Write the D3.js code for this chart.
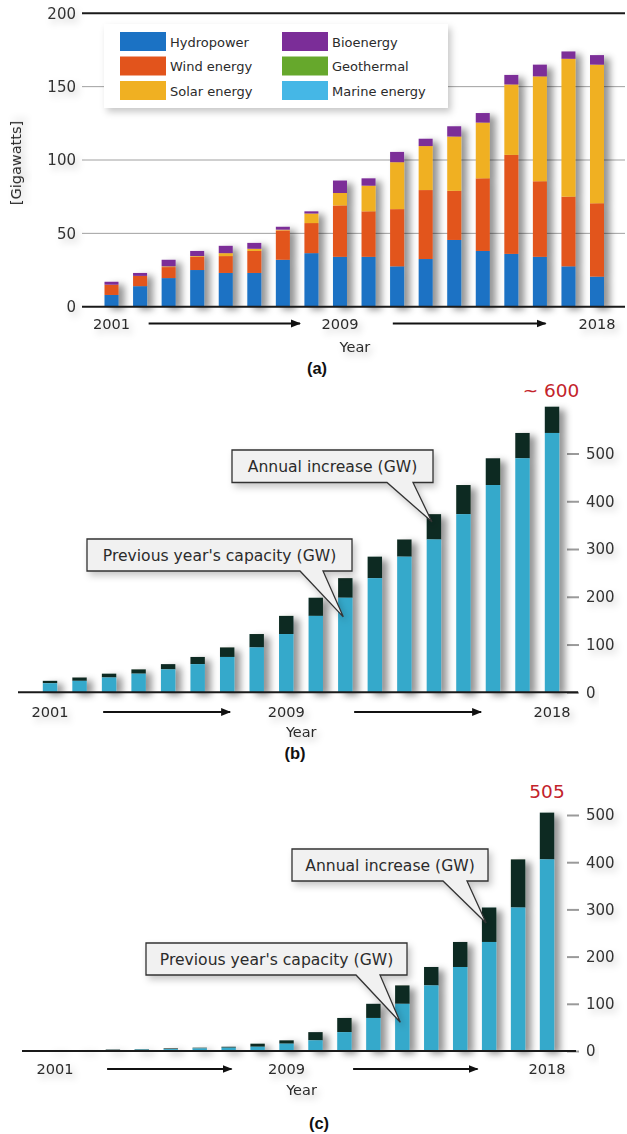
<!DOCTYPE html>
<html>
<head>
<meta charset="utf-8">
<script src="https://cdn.jsdelivr.net/npm/d3@7"></script>
<style>
body { margin: 0; background: #fff; }
svg { display: block; }
text { font-family: 'DejaVu Sans', sans-serif; fill: #2b2b2b; }
</style>
</head>
<body>
<div id="graph"></div>
<script>
// ---- data ----
var years = [2001, 2002, 2003, 2004, 2005, 2006, 2007, 2008, 2009, 2010, 2011, 2012, 2013, 2014, 2015, 2016, 2017, 2018]

// (a) annual additions by source, GW
var hydro = [8, 14, 19.5, 25, 23, 23, 32, 36.5, 34, 34, 27.5, 32.5, 45.5, 38, 36, 34, 27.5, 20.5]
var wind = [7, 7, 7.5, 9, 11.5, 15, 20, 20.5, 35, 31, 39, 47, 33.5, 49.5, 67.5, 51.5, 47.5, 50]
var solar = [0, 0, 0.5, 0.5, 2, 1.5, 0.5, 6.5, 8.5, 17.5, 32, 30, 37, 38, 48, 71.5, 94, 94.5]
var bio = [2, 2, 4.5, 3.5, 5, 4, 2, 1.5, 8.5, 5, 7, 5, 7, 6.5, 6.5, 8, 5, 6.5]
var geothermal = [0, 0, 0, 0, 0, 0, 0, 0, 0, 0, 0, 0, 0, 0, 0, 0, 0, 0]
var marine = [0, 0, 0, 0, 0, 0, 0, 0, 0, 0, 0, 0, 0, 0, 0, 0, 0, 0]
var sourceNames = ['Hydropower', 'Wind energy', 'Solar energy', 'Bioenergy', 'Geothermal', 'Marine energy']
var sourceColors = ['#1b72c4', '#e2541c', '#f0b022', '#7b2d98', '#66a82c', '#45b7e6']

// (b) wind capacity, GW
var windPrev = [19, 24, 31, 39, 48, 59, 74, 94, 122, 160, 198, 239, 284, 320, 373, 434, 490, 543]
var windTotal = [24, 31, 39, 48, 59, 74, 94, 122, 160, 198, 239, 284, 320, 373, 434, 490, 543, 598]

// (c) solar PV capacity, GW
var solarPrev = [1, 1.5, 2, 3, 4, 5.5, 7, 9, 15.5, 22.6, 40, 70, 100, 139, 178, 231, 304, 406]
var solarTotal = [1.5, 2, 3, 4, 5.5, 7, 9, 15.5, 22.6, 40, 70, 100, 139, 178, 231, 304, 406, 505]

var ticksA = [0, 50, 100, 150, 200]
var ticksBC = [0, 100, 200, 300, 400, 500]
var yearLabels = [2001, 2009, 2018]

var prevColor = '#35a9cb'
var incColor = '#0e2b22'

var svg = d3.select('#graph').append('svg').attr('width', 627).attr('height', 1134)
var defs = svg.append('defs')

var f = defs.append('filter').attr('id', 'shadow')
	.attr('x', '-50%').attr('y', '-30%').attr('width', '220%').attr('height', '160%')
f.append('feDropShadow').attr('dx', 6).attr('dy', 3).attr('stdDeviation', 3.5)
	.attr('flood-color', '#000').attr('flood-opacity', .42)

var ft = defs.append('filter').attr('id', 'soft')
	.attr('x', '-30%').attr('y', '-50%').attr('width', '160%').attr('height', '200%')
ft.append('feDropShadow').attr('dx', 3).attr('dy', 4).attr('stdDeviation', 3.5)
	.attr('flood-color', '#000').attr('flood-opacity', .22)

defs.append('marker').attr('id', 'arrow')
	.attr('viewBox', '0 0 10 10').attr('refX', 9).attr('refY', 5)
	.attr('markerWidth', 5).attr('markerHeight', 5).attr('orient', 'auto')
	.append('path').attr('d', 'M0,1L10,5L0,9Z').attr('fill', '#111')

function drawArrow(g, x0, x1, y){
	g.append('line')
		.attr('x1', x0).attr('x2', x1).attr('y1', y).attr('y2', y)
		.attr('stroke', '#111').attr('stroke-width', 2)
		.attr('marker-end', 'url(#arrow)')
}

function drawYears(g, x, yText, yYear, arrows){
	var t = g.append('g').attr('filter', 'url(#soft)')
	t.selectAll('text.yr').data(yearLabels).enter().append('text')
		.attr('x', d => x(d)).attr('y', yText)
		.attr('text-anchor', 'middle').attr('font-size', 14.6)
		.text(d => d)
	arrows.forEach(a => drawArrow(g, x(a[0]), x(a[1]), yText - 5))
	t.append('text').attr('x', x(2009) + 15).attr('y', yYear)
		.attr('text-anchor', 'middle').attr('font-size', 14.5).text('Year')
}

function panelLabel(txt, x, y){
	svg.append('text').attr('x', x).attr('y', y).attr('text-anchor', 'middle')
		.style('font-family', "'Liberation Sans', Arial, sans-serif")
		.attr('font-weight', 'bold').attr('font-size', 16.5).style('fill', '#111')
		.text(txt)
}

function callout(g, box, tail, tip, label){
	var p = 'M' + [box[0], box[1]] + 'H' + box[2] + 'V' + box[3] +
		'H' + tail[1] + 'L' + tip + 'L' + [tail[0], box[3]] + 'H' + box[0] + 'Z'
	g.append('path').attr('d', p)
		.attr('fill', '#f1f1f1').attr('stroke', '#333').attr('stroke-width', 1.3)
		.attr('filter', 'url(#soft)')
	g.append('text').attr('x', (box[0] + box[2])/2).attr('y', box[1] + 21.5)
		.attr('text-anchor', 'middle').attr('font-size', 15.6).text(label)
}

// ================= (a) =================
var xA = d3.scaleLinear().domain([2001, 2018]).range([111.5, 597])
var yA = d3.scaleLinear().domain([0, 200]).range([306.7, 13.3])
var gA = svg.append('g')

gA.selectAll('line.grid').data([50, 100, 150]).enter().append('line')
	.attr('x1', 82).attr('x2', 625).attr('y1', d => yA(d)).attr('y2', d => yA(d))
	.attr('stroke', '#a0a0a0').attr('stroke-width', 1)
gA.append('line').attr('x1', 82).attr('x2', 625).attr('y1', yA(200)).attr('y2', yA(200))
	.attr('stroke', '#1a1a1a').attr('stroke-width', 2)

var axA = gA.append('g').attr('transform', 'translate(82,0)').attr('filter', 'url(#soft)')
	.call(d3.axisLeft(yA).tickValues(ticksA).tickSize(0).tickPadding(6))
axA.select('.domain').remove()
axA.attr('font-size', 15).selectAll('text').style('fill', '#333')

gA.append('text').attr('transform', 'translate(21,' + yA(98) + ') rotate(-90)')
	.attr('text-anchor', 'middle').attr('font-size', 14.5).attr('filter', 'url(#soft)')
	.text('[Gigawatts]')

// legend
var lg = gA.append('g')
lg.append('rect').attr('x', 104).attr('y', 24).attr('width', 344).attr('height', 84)
	.attr('fill', '#fff').attr('filter', 'url(#soft)')
var li = lg.selectAll('g.li').data(sourceNames).enter().append('g')
	.attr('transform', (d, i) => 'translate(' + (i < 3 ? 120 : 282) + ',' + (32 + (i % 3)*24.5) + ')')
li.append('rect').attr('width', 46).attr('height', 19).attr('fill', (d, i) => sourceColors[i])
li.append('text').attr('x', 50).attr('y', 14.5).attr('font-size', 13).text(d => d)

var keysA = ['hydro', 'wind', 'solar', 'bio', 'geo', 'marine']
var tableA = years.map((y, i) => ({year: y, hydro: hydro[i], wind: wind[i], solar: solar[i],
	bio: bio[i], geo: geothermal[i], marine: marine[i]}))
var stackA = d3.stack().keys(keysA)(tableA)
var colorA = d3.scaleOrdinal().domain(keysA).range(sourceColors)

var barsA = gA.append('g').attr('filter', 'url(#shadow)')
barsA.selectAll('g').data(stackA).enter().append('g')
	.attr('fill', d => colorA(d.key))
	.selectAll('rect').data(d => d).enter().append('rect')
	.attr('x', d => xA(d.data.year) - 7).attr('width', 14)
	.attr('y', d => yA(d[1])).attr('height', d => yA(d[0]) - yA(d[1]))

gA.append('line').attr('x1', 82).attr('x2', 625).attr('y1', yA(0)).attr('y2', yA(0))
	.attr('stroke', '#1a1a1a').attr('stroke-width', 2)

drawYears(gA, xA, 328.5, 352, [[2002.3, 2007.6], [2010.85, 2016.2]])
panelLabel('(a)', 317, 374)

// ================= (b) & (c) =================
function capacityPanel(prev, total, x, y, x0, x1){
	var g = svg.append('g')
	var ax = g.append('g').attr('transform', 'translate(567,0)')
		.call(d3.axisRight(y).tickValues(ticksBC).tickSize(12).tickPadding(7))
	ax.select('.domain').remove()
	ax.selectAll('line').attr('stroke', '#9a9a9a').attr('stroke-width', 2)
	ax.attr('font-size', 15).selectAll('text').style('fill', '#333').attr('filter', 'url(#soft)')

	var rows = years.map((yr, i) => ({year: yr, prev: prev[i], total: total[i]}))
	var bars = g.append('g').attr('filter', 'url(#shadow)')
	var bg = bars.selectAll('g').data(rows).enter().append('g')
	bg.append('rect').attr('x', d => x(d.year) - 7.2).attr('width', 14.4)
		.attr('y', d => y(d.total)).attr('height', d => y(d.prev) - y(d.total))
		.attr('fill', incColor)
	bg.append('rect').attr('x', d => x(d.year) - 7.2).attr('width', 14.4)
		.attr('y', d => y(d.prev)).attr('height', d => y(0) - y(d.prev))
		.attr('fill', prevColor)

	g.append('line').attr('x1', x0).attr('x2', x1).attr('y1', y(0)).attr('y2', y(0))
		.attr('stroke', '#1a1a1a').attr('stroke-width', 2)
	return g
}

var xB = d3.scaleLinear().domain([2001, 2018]).range([50, 552])
var yB = d3.scaleLinear().domain([0, 500]).range([692.3, 453.5])
var gB = capacityPanel(windPrev, windTotal, xB, yB, 18, 578)
callout(gB, [87, 539, 352, 571], [300, 323], [xB(2011) - 2, yB(158)], "Previous year's capacity (GW)")
callout(gB, [232, 450, 433, 482.5], [387, 413], [xB(2014) - 2, yB(357)], 'Annual increase (GW)')
gB.append('text').attr('x', xB(2018) - 1).attr('y', 397).attr('text-anchor', 'middle')
	.attr('font-size', 18.5).style('fill', '#c3232b').text('~ 600')
drawYears(gB, xB, 717, 737, [[2002.8, 2007.1], [2011.3, 2015.6]])
panelLabel('(b)', 295, 759)

var xC = d3.scaleLinear().domain([2001, 2018]).range([55, 547])
var yC = d3.scaleLinear().domain([0, 500]).range([1051, 815])
var gC = capacityPanel(solarPrev, solarTotal, xC, yC, 22, 576)
callout(gC, [146, 943, 407, 975], [356, 380], [xC(2013) - 2, yC(61)], "Previous year's capacity (GW)")
callout(gC, [292, 849, 488, 881], [443, 467], [xC(2016) - 3, yC(271)], 'Annual increase (GW)')
gC.append('text').attr('x', xC(2018)).attr('y', 798).attr('text-anchor', 'middle')
	.attr('font-size', 18.5).style('fill', '#c3232b').text(solarTotal[solarTotal.length - 1])
drawYears(gC, xC, 1074, 1095, [[2002.8, 2007.1], [2011.3, 2015.6]])
panelLabel('(c)', 319, 1129)
</script>
</body>
</html>
